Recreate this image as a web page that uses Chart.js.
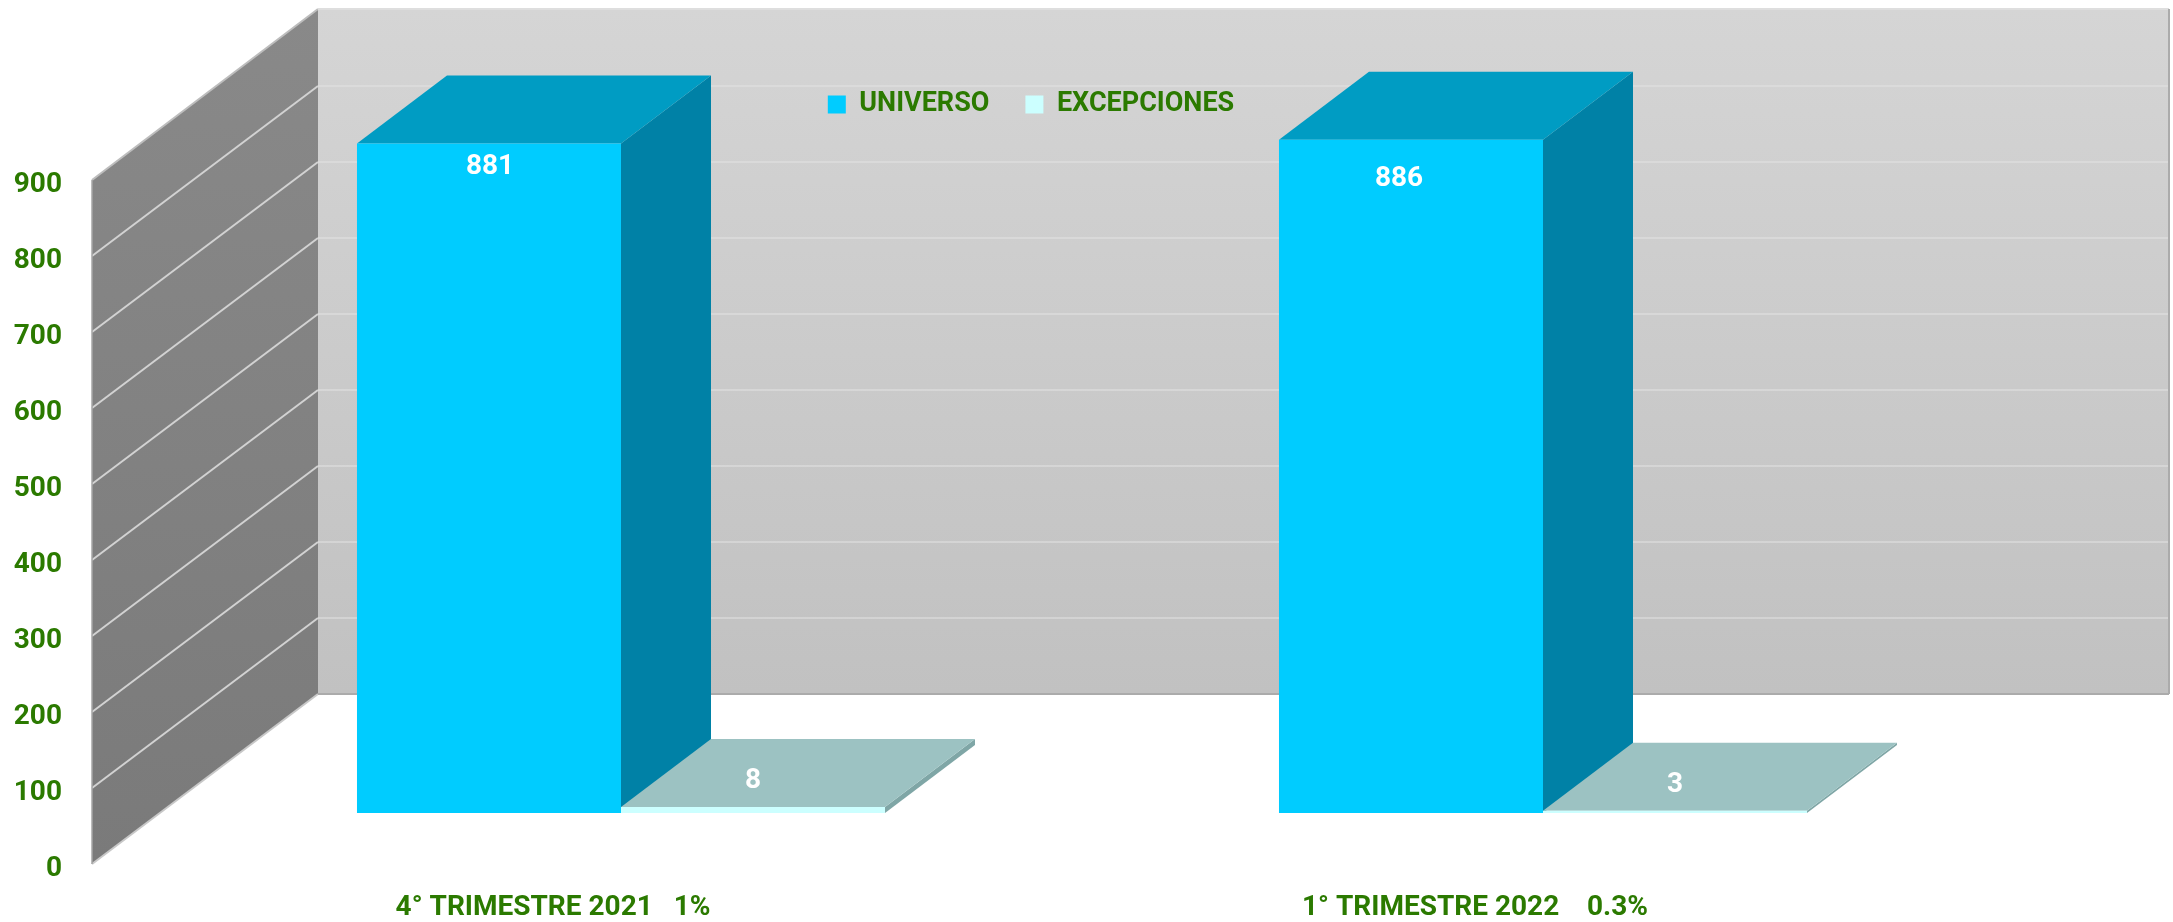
<!DOCTYPE html>
<html>
<head>
<meta charset="utf-8">
<style>
    html, body { margin:0; padding:0; background:#ffffff; }
    #wrap { width:2173px; height:922px; }
</style>
<script src="https://cdn.jsdelivr.net/npm/chart.js@4/dist/chart.umd.min.js"></script>
</head>
<body>
<div id="wrap"><canvas id="chart"></canvas></div>
<script>
const categories = ["4° TRIMESTRE 2021   1%", "1° TRIMESTRE 2022    0.3%"];
const universo = [881, 886];
const excepciones = [8, 3];

const GREEN = "#2B7A00";
const FONT = "Roboto";

// box depth and where the bars stand inside the floor
const wallDepth = {x:226, y:-171};
const wallRight = 2169;
const barDepth = {x:90, y:-68};
const barShift = {x:68, y:-51};

// value label offsets from the top centre of each bar (negative drop is above)
const labelDrop = [[24, 39], [-26, -26]];
const labelNudge = [[1, -12], [0, 0]];

const faceColors = [
    {top:"#009CC3", side:"#0081A6"},
    {top:"#9CC2C2", side:"#7FA6A6"}
];

function fillPoly(ctx, points, color){
    ctx.fillStyle = color;
    ctx.beginPath();
    points.forEach((p, i) => i ? ctx.lineTo(p[0], p[1]) : ctx.moveTo(p[0], p[1]));
    ctx.closePath();
    ctx.fill();
}

function line(ctx, x1, y1, x2, y2, color, width){
    ctx.strokeStyle = color;
    ctx.lineWidth = width;
    ctx.beginPath();
    ctx.moveTo(x1, y1);
    ctx.lineTo(x2, y2);
    ctx.stroke();
}

const box3d = {
    id:"box3d",

    afterLayout(chart){
        // legend floats over the back wall
        const legend = chart.legend;
        const height = legend.bottom - legend.top;
        legend.left += 63;
        legend.right += 63;
        legend.top = 55;
        legend.bottom = 55 + height;
    },

    beforeDraw(chart){
        const {ctx, chartArea, scales} = chart;
        const yScale = scales.y;
        const y0 = yScale.getPixelForValue(yScale.min);
        const yTop = yScale.getPixelForValue(yScale.max);
        const left = chartArea.left;
        const backX = left + wallDepth.x;

        ctx.save();

        const backFill = ctx.createLinearGradient(0, yTop + wallDepth.y, 0, y0 + wallDepth.y);
        backFill.addColorStop(0, "#D5D5D5");
        backFill.addColorStop(1, "#C1C1C1");
        ctx.fillStyle = backFill;
        ctx.fillRect(backX, yTop + wallDepth.y, wallRight - backX, y0 - yTop + 1);

        const wallFill = ctx.createLinearGradient(0, yTop + wallDepth.y, 0, y0);
        wallFill.addColorStop(0, "#898989");
        wallFill.addColorStop(1, "#7A7A7A");
        fillPoly(ctx, [
            [left, yTop],
            [backX, yTop + wallDepth.y],
            [backX, y0 + wallDepth.y + 1],
            [left, y0]
        ], wallFill);

        yScale.ticks.forEach(tick => {
            if(tick.value === yScale.min || tick.value === yScale.max){
                return;
            }
            const y = yScale.getPixelForValue(tick.value);
            line(ctx, left, y, backX, y + wallDepth.y + 1, "#D2D2D2", 2);
            line(ctx, backX, y + wallDepth.y + 1, wallRight, y + wallDepth.y + 1, "rgba(228,228,228,0.5)", 2);
        });

        // wall edges
        line(ctx, left, yTop, backX, yTop + wallDepth.y, "#BDBDBD", 2);
        line(ctx, left, y0, backX, y0 + wallDepth.y + 1, "#C8C8C8", 2);
        line(ctx, left, yTop, left, y0, "#A6A6A6", 1.5);
        line(ctx, backX, yTop + wallDepth.y, wallRight, yTop + wallDepth.y, "#DEDEDE", 2);
        line(ctx, backX, y0 + wallDepth.y + 1, wallRight, y0 + wallDepth.y + 1, "#ABABAB", 2);
        line(ctx, wallRight, yTop + wallDepth.y, wallRight, y0 + wallDepth.y + 1, "#ABABAB", 2);

        ctx.restore();
    },

    beforeDatasetsDraw(chart){
        const {ctx} = chart;

        // restored in afterDatasetsDraw, so the front faces get the same shift
        ctx.save();
        ctx.translate(barShift.x, barShift.y);

        chart.data.datasets.forEach((dataset, d) => {
            chart.getDatasetMeta(d).data.forEach(bar => {
                const x1 = bar.x - bar.width / 2;
                const x2 = bar.x + bar.width / 2;
                fillPoly(ctx, [
                    [x2, bar.y],
                    [x2 + barDepth.x, bar.y + barDepth.y],
                    [x2 + barDepth.x, bar.base + barDepth.y],
                    [x2, bar.base]
                ], faceColors[d].side);
                fillPoly(ctx, [
                    [x1, bar.y],
                    [x1 + barDepth.x, bar.y + barDepth.y],
                    [x2 + barDepth.x, bar.y + barDepth.y],
                    [x2, bar.y]
                ], faceColors[d].top);
            });
        });
    },

    afterDatasetsDraw(chart){
        const {ctx} = chart;

        ctx.textAlign = "center";
        ctx.textBaseline = "middle";
        ctx.fillStyle = "#ffffff";
        ctx.font = `700 28px ${FONT}`;

        chart.data.datasets.forEach((dataset, d) => {
            chart.getDatasetMeta(d).data.forEach((bar, i) => {
                ctx.fillText(dataset.data[i], bar.x + labelNudge[d][i], bar.y + labelDrop[d][i]);
            });
        });

        ctx.restore();
    }
};

new Chart(document.getElementById("chart"), {
    type:"bar",
    data:{
        labels:categories,
        datasets:[
            {label:"UNIVERSO", data:universo, backgroundColor:"#00CCFF"},
            {label:"EXCEPCIONES", data:excepciones, backgroundColor:"#CCFFFF"}
        ]
    },
    options:{
        responsive:true,
        maintainAspectRatio:false,
        animation:false,
        barPercentage:1,
        categoryPercentage:0.5727,
        layout:{
            padding:{top:107, right:237, bottom:0, left:0}
        },
        scales:{
            x:{
                afterFit:scale => { scale.height = 58; },
                border:{display:false},
                grid:{display:false, drawTicks:false},
                ticks:{
                    color:GREEN,
                    padding:27,
                    maxRotation:0,
                    font:{family:FONT, size:28, weight:"700"}
                }
            },
            y:{
                min:0,
                max:900,
                afterFit:scale => { scale.width = 92; },
                border:{display:false},
                grid:{display:false, drawTicks:false},
                ticks:{
                    stepSize:100,
                    color:GREEN,
                    padding:30,
                    labelOffset:5,
                    font:{family:FONT, size:28, weight:"700"}
                }
            }
        },
        plugins:{
            tooltip:{enabled:false},
            legend:{
                position:"top",
                labels:{
                    color:GREEN,
                    boxWidth:18,
                    boxHeight:18,
                    padding:36,
                    font:{family:FONT, size:27, weight:"700"}
                }
            }
        }
    },
    plugins:[box3d]
});
</script>
</body>
</html>
